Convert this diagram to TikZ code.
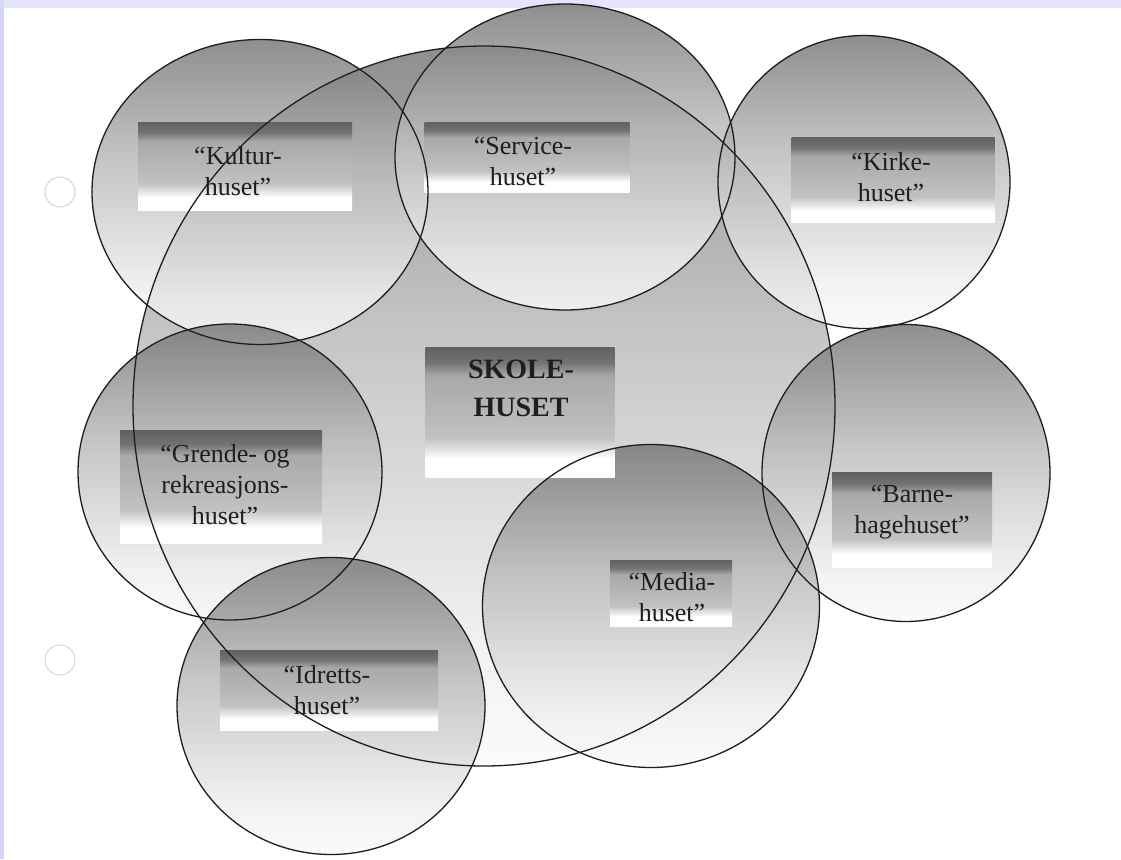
\documentclass[tikz,border=0pt]{standalone}
\usepackage{fontspec}
\setmainfont{Liberation Serif}
\usetikzlibrary{shapes.geometric}
\definecolor{husInk}{HTML}{1E1E1E}
\definecolor{husBand}{HTML}{E4E4FC}
\definecolor{husSide}{HTML}{D6D6FA}
\definecolor{husHole}{HTML}{D8D8D8}
% bottom first; the path covers 25bp to 75bp
\pgfdeclareverticalshading{husfade}{100bp}{color(0bp)=(black!2); color(25bp)=(black!2); color(33bp)=(black!6); color(55bp)=(black!28); color(75bp)=(black!55); color(100bp)=(black!55)}
\pgfdeclareverticalshading{husskilt}{100bp}{color(0bp)=(white); color(25bp)=(white); color(32bp)=(white); color(40bp)=(black!24); color(64bp)=(black!34); color(69bp)=(black!55); color(75bp)=(black!62); color(100bp)=(black!62)}
\tikzset{
  hus ellipse/.style={ellipse, inner sep=0pt, outer sep=0pt, shading=husfade, fill opacity=0.8},
  hus rim/.style={ellipse, inner sep=0pt, outer sep=0pt, draw=husInk, line width=1.3pt},
  hus panel/.style={rectangle, inner sep=0pt, shading=husskilt},
  hus label/.style={font=\fontsize{26}{31}\selectfont, text=husInk, align=center},
  hus big label/.style={font=\fontsize{28}{38}\selectfont\bfseries, text=husInk, align=center},
}
% name/x/y/width/height of each house
\def\husliste{skole/484/406/702/720, kultur/260/192/336/305, service/565/157/340/306,
  kirke/864/182/292/293, grende/230/472/304/296, barnehage/906/473/288/297,
  media/651/606/337/323, idrett/331/706/308/297}

\begin{document}
\begin{tikzpicture}[x=1pt, y=-1pt]
  \useasboundingbox (0,0) rectangle (1121,859);
  \fill[white] (0,0) rectangle (1121,859);
  \fill[husBand] (0,0) rectangle (1121,8);
  \fill[husSide] (0,0) rectangle (4,859);
  % punch holes
  \draw[husHole, line width=1pt] (60,192) circle (15);
  \draw[husHole, line width=1pt] (60,660) circle (15);

  % shaded houses
  \foreach \nm/\x/\y/\w/\h in \husliste
    \node[hus ellipse, minimum width=\w pt, minimum height=\h pt] (\nm) at (\x,\y) {};

  % sign panels
  \node[hus panel, minimum width=214pt, minimum height=88pt] (kultur-skilt) at (245,166) {};
  \node[hus panel, minimum width=205pt, minimum height=70pt] (service-skilt) at (527,157) {};
  \node[hus panel, minimum width=203pt, minimum height=85pt] (kirke-skilt) at (893,180) {};
  \node[hus panel, minimum width=189pt, minimum height=130pt] (skole-skilt) at (520,412) {};
  \node[hus panel, minimum width=202pt, minimum height=113pt] (grende-skilt) at (221,487) {};
  \node[hus panel, minimum width=160pt, minimum height=95pt] (barnehage-skilt) at (912,520) {};
  \node[hus panel, minimum width=122pt, minimum height=66pt] (media-skilt) at (671,593) {};
  \node[hus panel, minimum width=218pt, minimum height=80pt] (idrett-skilt) at (329,690) {};

  % outlines on top
  \foreach \nm/\x/\y/\w/\h in \husliste
    \node[hus rim, minimum width=\w pt, minimum height=\h pt] (\nm-rim) at (\x,\y) {};

  % texts
  \node[hus label] (kultur-tekst) at (238,171) {“Kultur-\\huset”};
  \node[hus label] (service-tekst) at (523,161) {“Service-\\huset”};
  \node[hus label] (kirke-tekst) at (891,177) {“Kirke-\\huset”};
  \node[hus big label] (skole-tekst) at (521,388) {SKOLE-\\HUSET};
  \node[hus label] (grende-tekst) at (225,485) {“Grende- og\\rekreasjons-\\huset”};
  \node[hus label] (barnehage-tekst) at (912,512) {“Barne-\\hagehuset”};
  \node[hus label] (media-tekst) at (672,597) {“Media-\\huset”};
  \node[hus label] (idrett-tekst) at (327,690) {“Idretts-\\huset”};
\end{tikzpicture}
\end{document}
